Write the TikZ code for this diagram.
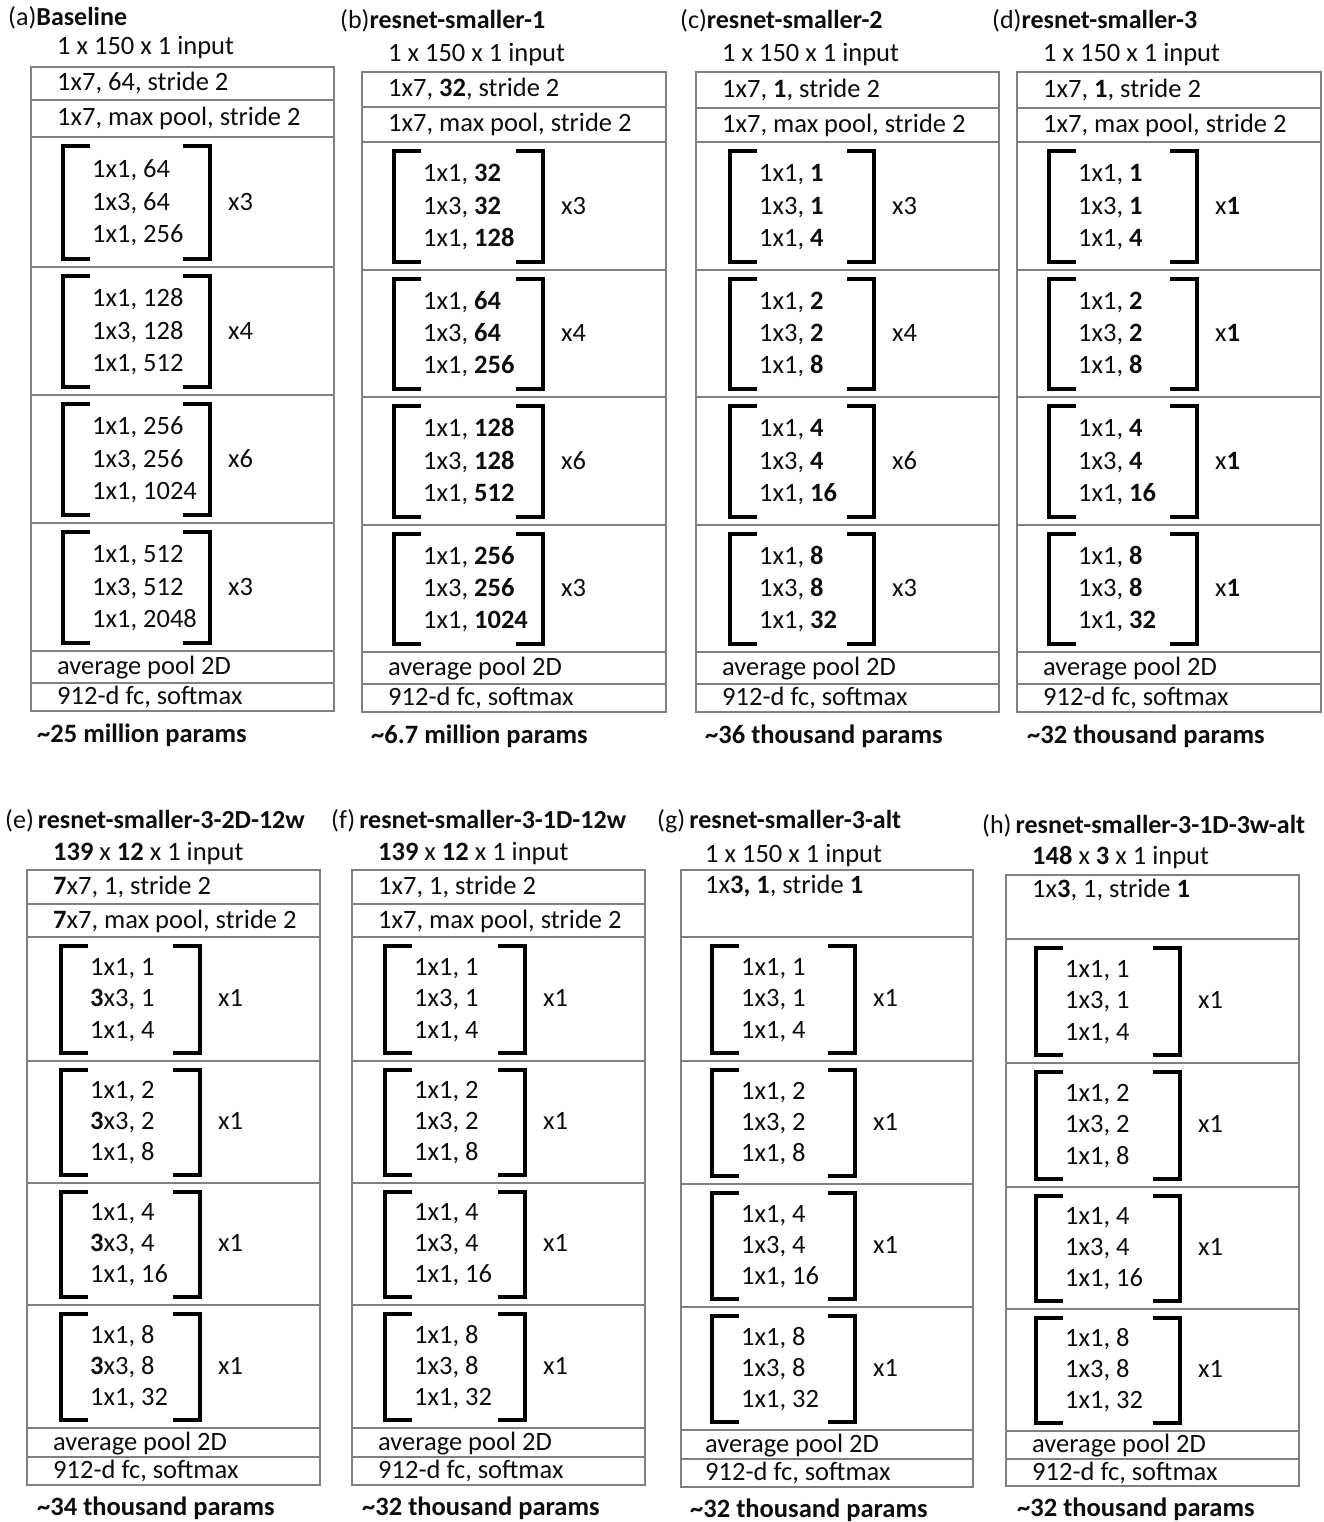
\documentclass[tikz,border=0pt]{standalone}
\usepackage{fontspec}
\setmainfont{Carlito}
\newcommand{\rblk}[9]{%
 \pgfmathsetmacro\rbH{#5-#4}%
 \pgfmathsetmacro\rbA{#4+0.31*\rbH}%
 \pgfmathsetmacro\rbB{#4+0.563*\rbH}%
 \pgfmathsetmacro\rbC{#4+0.815*\rbH}%
 \draw[brk] ({#2+27},{#4+9}) -| ({#2},{#5-8}) -- ({#2+27},{#5-8});
 \draw[brk] ({#3-27},{#4+9}) -| ({#3},{#5-8}) -- ({#3-27},{#5-8});
 \node[txt] (#1a) at ({#2+29},\rbA) {#6};
 \node[txt] (#1b) at ({#2+29},\rbB) {#7};
 \node[txt] (#1c) at ({#2+29},\rbC) {#8};
 \node[txt] (#1m) at ({#3+18},\rbB) {#9};
}
\newcommand{\rtxt}[5]{\node[txt] (#1) at ({#2},{(#3+#4)/2+7.5}) {#5};}
\begin{document}
\begin{tikzpicture}[x=1pt,y=-1pt,
  txt/.style={anchor=base west,inner sep=0pt,text=black!95,font=\fontsize{26.5}{30}\selectfont},
  ttl/.style={txt,font=\fontsize{26}{30}\selectfont},
  brk/.style={line width=4.8pt,line cap=butt,line join=miter,black},
  boxl/.style={draw=black!50,line width=1.4pt}]
\useasboundingbox (0,0) rectangle (1324,1522);
\fill[white] (0,0) rectangle (1324,1522);

% ---------------- (a)
\draw[boxl] (31,67) rectangle (334,711);
\foreach \yy in {100,137,267,395,523,651,683} \draw[boxl] (31,\yy) -- (334,\yy);
\node[ttl] (ta) at (8,26) {(a)\textbf{Baseline}};
\node[txt] (ia) at (57,55) {1 x 150 x 1 input};
\rtxt{a1}{57}{67}{100}{1x7, 64, stride 2}
\rtxt{a2}{57}{100}{137}{1x7, max pool, stride 2}
\rblk{ab1}{63}{210}{137}{267}{1x1, 64}{1x3, 64}{1x1, 256}{x3}
\rblk{ab2}{63}{210}{267}{395}{1x1, 128}{1x3, 128}{1x1, 512}{x4}
\rblk{ab3}{63}{210}{395}{523}{1x1, 256}{1x3, 256}{1x1, 1024}{x6}
\rblk{ab4}{63}{210}{523}{651}{1x1, 512}{1x3, 512}{1x1, 2048}{x3}
\rtxt{a3}{57}{651}{683}{average pool 2D}
\rtxt{a4}{57}{683}{711}{912-d fc, softmax}
\node[txt] (pa) at (37,742) {\bfseries\textasciitilde 25 million params};

% ---------------- (b)
\draw[boxl] (362,72) rectangle (666,712);
\foreach \yy in {107,142,270,397,525,652,684} \draw[boxl] (362,\yy) -- (666,\yy);
\node[ttl] (tb) at (340,29) {(b)\textbf{resnet-smaller-1}};
\node[txt] (ib) at (388,62) {1 x 150 x 1 input};
\rtxt{b1}{388}{72}{107}{1x7, \textbf{32}, stride 2}
\rtxt{b2}{388}{107}{142}{1x7, max pool, stride 2}
\rblk{bb1}{394}{543}{142}{270}{1x1, \textbf{32}}{1x3, \textbf{32}}{1x1, \textbf{128}}{x3}
\rblk{bb2}{394}{543}{270}{397}{1x1, \textbf{64}}{1x3, \textbf{64}}{1x1, \textbf{256}}{x4}
\rblk{bb3}{394}{543}{397}{525}{1x1, \textbf{128}}{1x3, \textbf{128}}{1x1, \textbf{512}}{x6}
\rblk{bb4}{394}{543}{525}{652}{1x1, \textbf{256}}{1x3, \textbf{256}}{1x1, \textbf{1024}}{x3}
\rtxt{b3}{388}{652}{684}{average pool 2D}
\rtxt{b4}{388}{684}{712}{912-d fc, softmax}
\node[txt] (pb) at (371,743) {\bfseries\textasciitilde 6.7 million params};

% ---------------- (c)
\draw[boxl] (696,72) rectangle (999,712);
\foreach \yy in {108,142,270,397,525,652,684} \draw[boxl] (696,\yy) -- (999,\yy);
\node[ttl] (tc) at (680,29) {(c)\textbf{resnet-smaller-2}};
\node[txt] (ic) at (722,62) {1 x 150 x 1 input};
\rtxt{c1}{722}{72}{108}{1x7, \textbf{1}, stride 2}
\rtxt{c2}{722}{108}{142}{1x7, max pool, stride 2}
\rblk{cb1}{730}{874}{142}{270}{1x1, \textbf{1}}{1x3, \textbf{1}}{1x1, \textbf{4}}{x3}
\rblk{cb2}{730}{874}{270}{397}{1x1, \textbf{2}}{1x3, \textbf{2}}{1x1, \textbf{8}}{x4}
\rblk{cb3}{730}{874}{397}{525}{1x1, \textbf{4}}{1x3, \textbf{4}}{1x1, \textbf{16}}{x6}
\rblk{cb4}{730}{874}{525}{652}{1x1, \textbf{8}}{1x3, \textbf{8}}{1x1, \textbf{32}}{x3}
\rtxt{c3}{722}{652}{684}{average pool 2D}
\rtxt{c4}{722}{684}{712}{912-d fc, softmax}
\node[txt] (pc) at (705,743) {\bfseries\textasciitilde 36 thousand params};

% ---------------- (d)
\draw[boxl] (1017,72) rectangle (1321,712);
\foreach \yy in {108,142,270,397,525,652,684} \draw[boxl] (1017,\yy) -- (1321,\yy);
\node[ttl] (td) at (992,29) {(d)\textbf{resnet-smaller-3}};
\node[txt] (id) at (1043,62) {1 x 150 x 1 input};
\rtxt{d1}{1043}{72}{108}{1x7, \textbf{1}, stride 2}
\rtxt{d2}{1043}{108}{142}{1x7, max pool, stride 2}
\rblk{db1}{1049}{1197}{142}{270}{1x1, \textbf{1}}{1x3, \textbf{1}}{1x1, \textbf{4}}{x\textbf{1}}
\rblk{db2}{1049}{1197}{270}{397}{1x1, \textbf{2}}{1x3, \textbf{2}}{1x1, \textbf{8}}{x\textbf{1}}
\rblk{db3}{1049}{1197}{397}{525}{1x1, \textbf{4}}{1x3, \textbf{4}}{1x1, \textbf{16}}{x\textbf{1}}
\rblk{db4}{1049}{1197}{525}{652}{1x1, \textbf{8}}{1x3, \textbf{8}}{1x1, \textbf{32}}{x\textbf{1}}
\rtxt{d3}{1043}{652}{684}{average pool 2D}
\rtxt{d4}{1043}{684}{712}{912-d fc, softmax}
\node[txt] (pd) at (1027,743) {\bfseries\textasciitilde 32 thousand params};

% ---------------- (e)
\draw[boxl] (27,870) rectangle (320,1485);
\foreach \yy in {904,937,1061,1183,1305,1428,1457} \draw[boxl] (27,\yy) -- (320,\yy);
\node[ttl] (te) at (5,828) {(e)\hspace{4pt}\textbf{resnet-smaller-3-2D-12w}};
\node[txt] (ie) at (53,860) {\textbf{139} x \textbf{12} x 1 input};
\rtxt{e1}{53}{870}{904}{\textbf{7}x7, 1, stride 2}
\rtxt{e2}{53}{904}{937}{\textbf{7}x7, max pool, stride 2}
\rblk{eb1}{61}{200}{937}{1061}{1x1, 1}{\textbf{3}x3, 1}{1x1, 4}{x1}
\rblk{eb2}{61}{200}{1061}{1183}{1x1, 2}{\textbf{3}x3, 2}{1x1, 8}{x1}
\rblk{eb3}{61}{200}{1183}{1305}{1x1, 4}{\textbf{3}x3, 4}{1x1, 16}{x1}
\rblk{eb4}{61}{200}{1305}{1428}{1x1, 8}{\textbf{3}x3, 8}{1x1, 32}{x1}
\rtxt{e3}{53}{1428}{1457}{average pool 2D}
\rtxt{e4}{53}{1457}{1485}{912-d fc, softmax}
\node[txt] (pe) at (37,1515) {\bfseries\textasciitilde 34 thousand params};

% ---------------- (f)
\draw[boxl] (352,870) rectangle (645,1485);
\foreach \yy in {904,937,1061,1183,1305,1428,1457} \draw[boxl] (352,\yy) -- (645,\yy);
\node[ttl] (tf) at (331,828) {(f)\hspace{4pt}\textbf{resnet-smaller-3-1D-12w}};
\node[txt] (if) at (378,860) {\textbf{139} x \textbf{12} x 1 input};
\rtxt{f1}{378}{870}{904}{1x7, 1, stride 2}
\rtxt{f2}{378}{904}{937}{1x7, max pool, stride 2}
\rblk{fb1}{385}{525}{937}{1061}{1x1, 1}{1x3, 1}{1x1, 4}{x1}
\rblk{fb2}{385}{525}{1061}{1183}{1x1, 2}{1x3, 2}{1x1, 8}{x1}
\rblk{fb3}{385}{525}{1183}{1305}{1x1, 4}{1x3, 4}{1x1, 16}{x1}
\rblk{fb4}{385}{525}{1305}{1428}{1x1, 8}{1x3, 8}{1x1, 32}{x1}
\rtxt{f3}{378}{1428}{1457}{average pool 2D}
\rtxt{f4}{378}{1457}{1485}{912-d fc, softmax}
\node[txt] (pf) at (362,1515) {\bfseries\textasciitilde 32 thousand params};

% ---------------- (g)
\draw[boxl] (681,870) rectangle (973,1487);
\foreach \yy in {937,1061,1184,1307,1430,1459} \draw[boxl] (681,\yy) -- (973,\yy);
\node[ttl] (tg) at (657,828) {(g)\hspace{4pt}\textbf{resnet-smaller-3-alt}};
\node[txt] (ig) at (705,862) {1 x 150 x 1 input};
\node[txt] (g1) at (705,893) {1x\textbf{3, 1}, stride \textbf{1}};
\rblk{gb1}{712}{855}{937}{1061}{1x1, 1}{1x3, 1}{1x1, 4}{x1}
\rblk{gb2}{712}{855}{1061}{1184}{1x1, 2}{1x3, 2}{1x1, 8}{x1}
\rblk{gb3}{712}{855}{1184}{1307}{1x1, 4}{1x3, 4}{1x1, 16}{x1}
\rblk{gb4}{712}{855}{1307}{1430}{1x1, 8}{1x3, 8}{1x1, 32}{x1}
\rtxt{g3}{705}{1430}{1459}{average pool 2D}
\rtxt{g4}{705}{1459}{1487}{912-d fc, softmax}
\node[txt] (pg) at (690,1517) {\bfseries\textasciitilde 32 thousand params};

% ---------------- (h)
\draw[boxl] (1006,875) rectangle (1299,1486);
\foreach \yy in {939,1063,1187,1309,1431,1459} \draw[boxl] (1006,\yy) -- (1299,\yy);
\node[ttl] (th) at (982,833) {(h)\hspace{4pt}\textbf{resnet-smaller-3-1D-3w-alt}};
\node[txt] (ih) at (1032,864) {\textbf{148} x \textbf{3} x 1 input};
\node[txt] (h1) at (1032,897) {1x\textbf{3}, 1, stride \textbf{1}};
\rblk{hb1}{1036}{1180}{939}{1063}{1x1, 1}{1x3, 1}{1x1, 4}{x1}
\rblk{hb2}{1036}{1180}{1063}{1187}{1x1, 2}{1x3, 2}{1x1, 8}{x1}
\rblk{hb3}{1036}{1180}{1187}{1309}{1x1, 4}{1x3, 4}{1x1, 16}{x1}
\rblk{hb4}{1036}{1180}{1309}{1431}{1x1, 8}{1x3, 8}{1x1, 32}{x1}
\rtxt{h3}{1032}{1431}{1459}{average pool 2D}
\rtxt{h4}{1032}{1459}{1486}{912-d fc, softmax}
\node[txt] (ph) at (1017,1516) {\bfseries\textasciitilde 32 thousand params};
\end{tikzpicture}
\end{document}
